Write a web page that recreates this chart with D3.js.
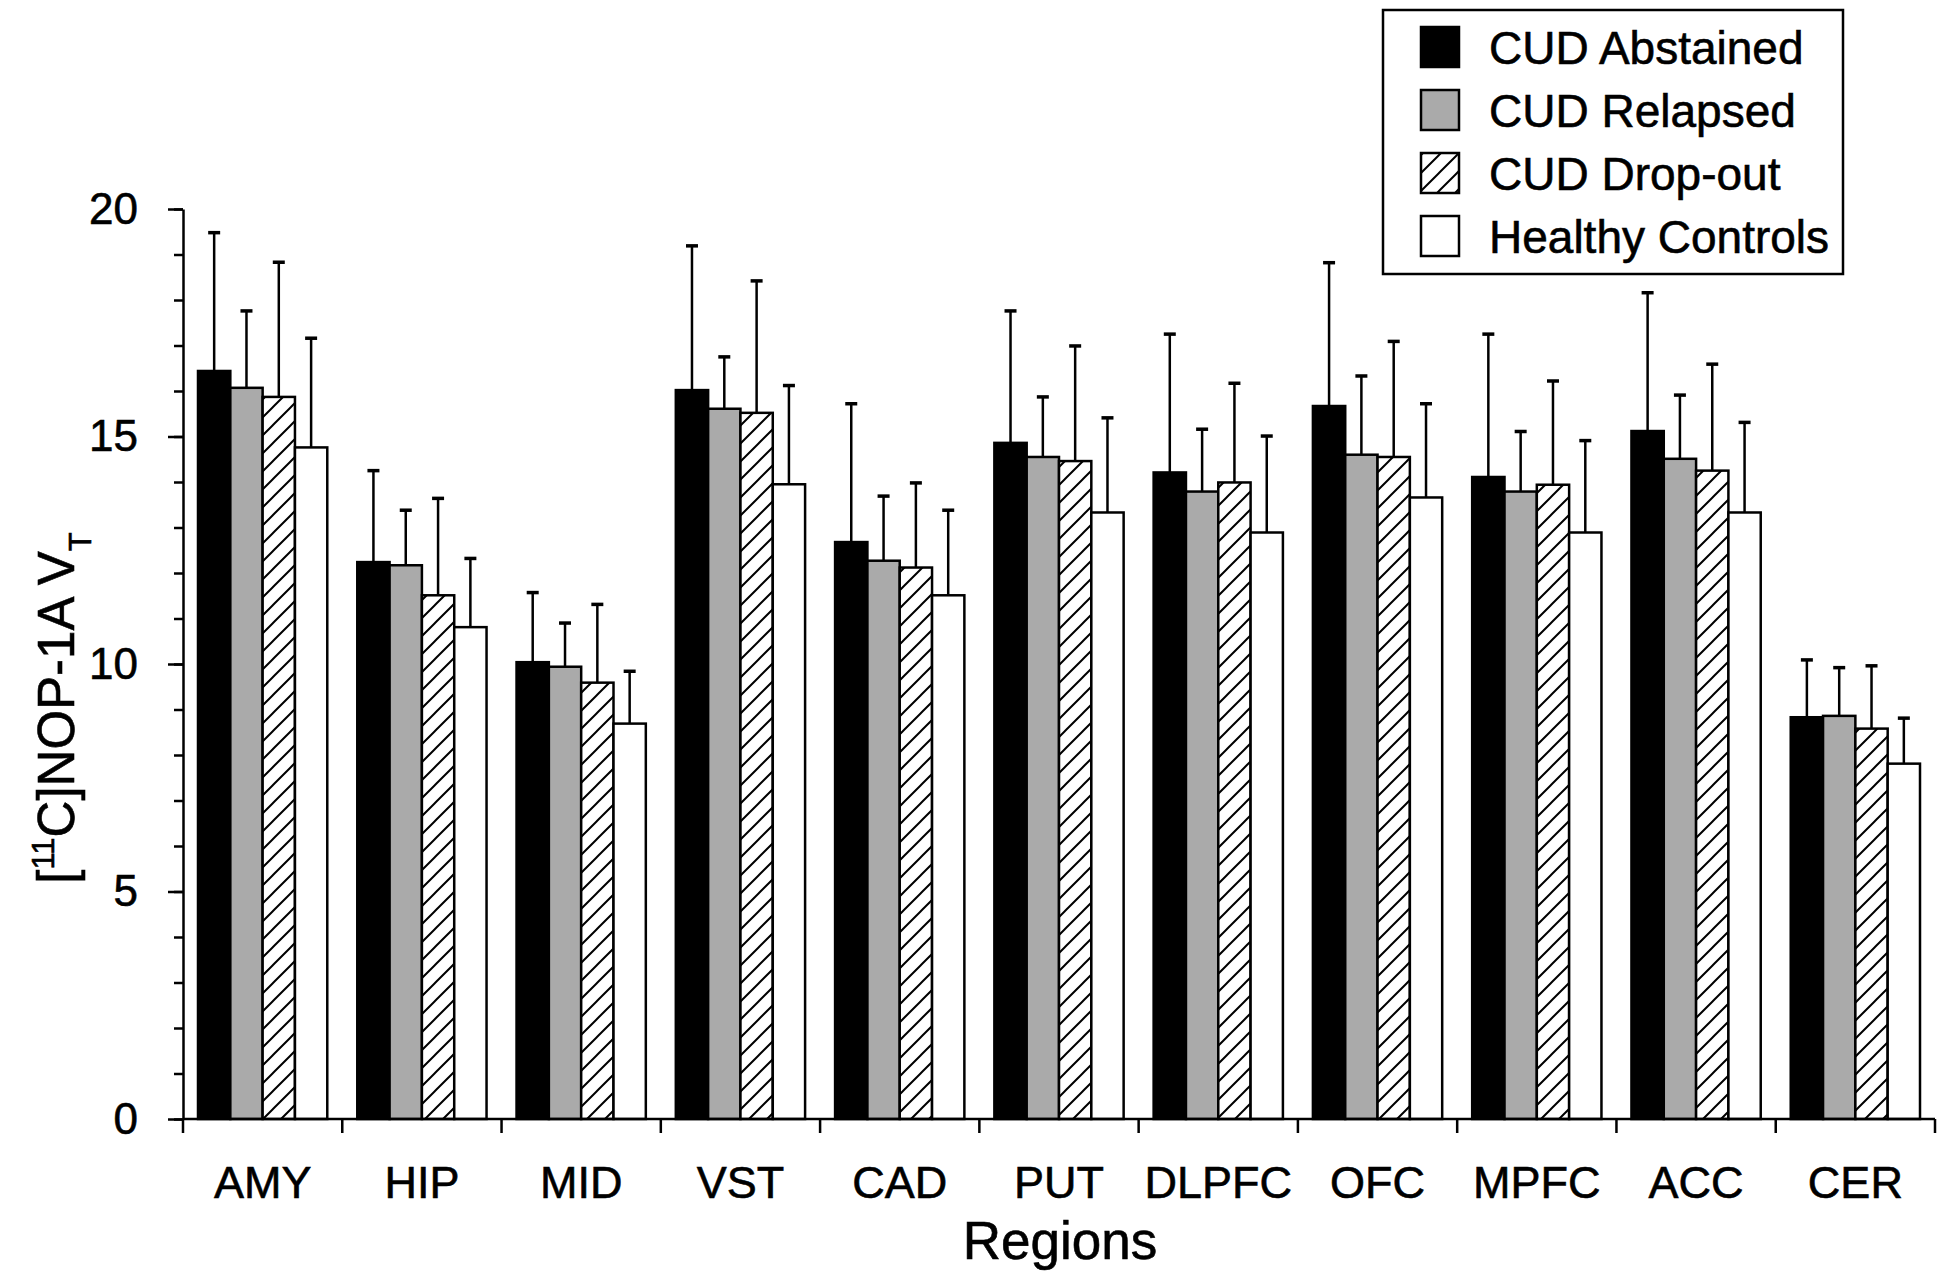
<!DOCTYPE html>
<html>
<head>
<meta charset="utf-8">
<script src="https://cdn.jsdelivr.net/npm/d3@7"></script>
<style>
  html, body { margin: 0; padding: 0; background: #fff; }
  svg { display: block; font-family: "Liberation Sans", Arial, sans-serif; }
  svg text { stroke: #000; stroke-width: 0.6px; fill: #000; }
</style>
</head>
<body>
<div id="chart"></div>
<script>
const regions = ["AMY", "HIP", "MID", "VST", "CAD", "PUT", "DLPFC", "OFC", "MPFC", "ACC", "CER"];
const groups = ["CUD Abstained", "CUD Relapsed", "CUD Drop-out", "Healthy Controls"];

// means and SD (upper error bar)
const abstainedMean = [16.44, 12.24, 10.04, 16.02, 12.68, 14.86, 14.21, 15.67, 14.11, 15.12, 8.83];
const abstainedSd   = [3.04, 2.01, 1.53, 3.17, 3.04, 2.90, 3.04, 3.15, 3.14, 3.04, 1.26];
const relapsedMean  = [16.07, 12.17, 9.94, 15.61, 12.27, 14.55, 13.79, 14.60, 13.79, 14.51, 8.86];
const relapsedSd    = [1.69, 1.21, 0.96, 1.14, 1.42, 1.32, 1.37, 1.73, 1.32, 1.40, 1.06];
const dropoutMean   = [15.87, 11.51, 9.59, 15.52, 12.12, 14.46, 13.99, 14.55, 13.94, 14.25, 8.58];
const dropoutSd     = [2.96, 2.13, 1.72, 2.90, 1.86, 2.53, 2.18, 2.54, 2.28, 2.34, 1.38];
const controlsMean  = [14.76, 10.81, 8.69, 13.95, 11.51, 13.33, 12.89, 13.66, 12.89, 13.33, 7.81];
const controlsSd    = [2.40, 1.51, 1.15, 2.17, 1.87, 2.08, 2.12, 2.06, 2.02, 1.98, 1.00];

const yTicks = [0, 5, 10, 15, 20];

const means = [abstainedMean, relapsedMean, dropoutMean, controlsMean];
const sds = [abstainedSd, relapsedSd, dropoutSd, controlsSd];
const fills = ["#000", "#aaa", "url(#hatch)", "#fff"];

const width = 1950;
const height = 1274;
const pl = 183;
const pr = 15;
const pt = 209;
const pb = 155;
const graphWidth = width - pl - pr;
const graphHeight = height - pt - pb;

const rows = regions.flatMap((r, i) => groups.map((g, j) => ({
    region: r,
    group: g,
    gi: j,
    mean: means[j][i],
    sd: sds[j][i],
})));

const x = d3.scaleBand().domain(regions).range([0, graphWidth]).padding(0);
const bw = x.bandwidth();
const xInner = d3.scaleBand().domain(groups).range([15, bw - 15]).padding(0);
const y = d3.scaleLinear().domain([0, 20]).range([graphHeight, 0]);

const svg = d3.select("#chart").append("svg")
    .attr("width", width)
    .attr("height", height);

const defs = svg.append("defs");
const pat = defs.append("pattern")
    .attr("id", "hatch")
    .attr("patternUnits", "userSpaceOnUse")
    .attr("width", 18)
    .attr("height", 18);
pat.append("rect").attr("width", 18).attr("height", 18).attr("fill", "#fff");
pat.append("path")
    .attr("d", "M-2,20 L20,-2 M-4,4 L4,-4 M14,22 L22,14")
    .attr("stroke", "#000")
    .attr("stroke-width", 2);

const g = svg.append("g").attr("transform", `translate(${pl},${pt})`);

// error bars (upper only)
const errs = g.selectAll("g.err").data(rows).join("g").attr("class", "err")
    .attr("transform", d => `translate(${x(d.region) + xInner(d.group) + xInner.bandwidth() / 2},0)`);
errs.append("line")
    .attr("y1", d => y(d.mean)).attr("y2", d => y(d.mean + d.sd))
    .attr("stroke", "#000").attr("stroke-width", 2.5);
errs.append("line")
    .attr("x1", -6).attr("x2", 6)
    .attr("y1", d => y(d.mean + d.sd)).attr("y2", d => y(d.mean + d.sd))
    .attr("stroke", "#000").attr("stroke-width", 3.5);

// bars
g.selectAll("rect.bar").data(rows).join("rect").attr("class", "bar")
    .attr("x", d => x(d.region) + xInner(d.group))
    .attr("width", xInner.bandwidth())
    .attr("y", d => y(d.mean))
    .attr("height", d => graphHeight - y(d.mean))
    .attr("fill", d => fills[d.gi])
    .attr("stroke", "#000")
    .attr("stroke-width", 2.5);

// y axis with minor ticks
const yAxis = g.append("g").attr("class", "yAxis");
yAxis.append("g")
    .call(d3.axisLeft(y).tickValues(d3.range(0, 21, 1)).tickSize(9).tickFormat(""))
    .call(a => a.select(".domain").remove());
yAxis.append("g")
    .call(d3.axisLeft(y).tickValues(yTicks).tickSize(15).tickPadding(30).tickSizeOuter(0))
    .call(a => a.selectAll("text").style("font-size", "44px"));
yAxis.selectAll("line, path").attr("stroke", "#000").attr("stroke-width", 2.5);

// x axis: ticks at band boundaries, labels centred
const xAxis = g.append("g").attr("class", "xAxis").attr("transform", `translate(0,${graphHeight})`);
xAxis.append("line").attr("x1", 0).attr("x2", graphWidth)
    .attr("stroke", "#000").attr("stroke-width", 2.5);
xAxis.selectAll("line.bound").data([...regions.map(r => x(r)), graphWidth]).join("line")
    .attr("class", "bound")
    .attr("x1", d => d).attr("x2", d => d)
    .attr("y1", 0).attr("y2", 14)
    .attr("stroke", "#000").attr("stroke-width", 2.5);
xAxis.append("g")
    .call(d3.axisBottom(x).tickSize(0).tickPadding(47))
    .call(a => a.select(".domain").remove())
    .call(a => a.selectAll("text").style("font-size", "45px"));

// axis titles
svg.append("text")
    .attr("x", 1060)
    .attr("y", 1259)
    .attr("text-anchor", "middle")
    .style("font-size", "53px")
    .text("Regions");

const yLabel = svg.append("text")
    .attr("transform", `translate(74,${pt + graphHeight / 2 + 44}) rotate(-90)`)
    .attr("text-anchor", "middle")
    .style("font-size", "51px");
yLabel.append("tspan").text("[");
yLabel.append("tspan").attr("dy", -20).style("font-size", "31px").text("11");
yLabel.append("tspan").attr("dy", 20).text("C]NOP-1A V");
yLabel.append("tspan").attr("dy", 17).style("font-size", "31px").text("T");

// legend
const legend = svg.append("g").attr("transform", "translate(1383,10)");
legend.append("rect")
    .attr("width", 460).attr("height", 264)
    .attr("fill", "#fff").attr("stroke", "#000").attr("stroke-width", 2.5);
const items = legend.selectAll("g.item").data(groups).join("g").attr("class", "item")
    .attr("transform", (d, i) => `translate(38,${37 + i * 63})`);
items.append("rect")
    .attr("y", -20).attr("width", 38).attr("height", 40)
    .attr("fill", (d, i) => fills[i])
    .attr("stroke", "#000").attr("stroke-width", 2.5);
items.append("text")
    .attr("x", 68).attr("dy", "0.36em")
    .style("font-size", "46px")
    .text(d => d);
</script>
</body>
</html>
